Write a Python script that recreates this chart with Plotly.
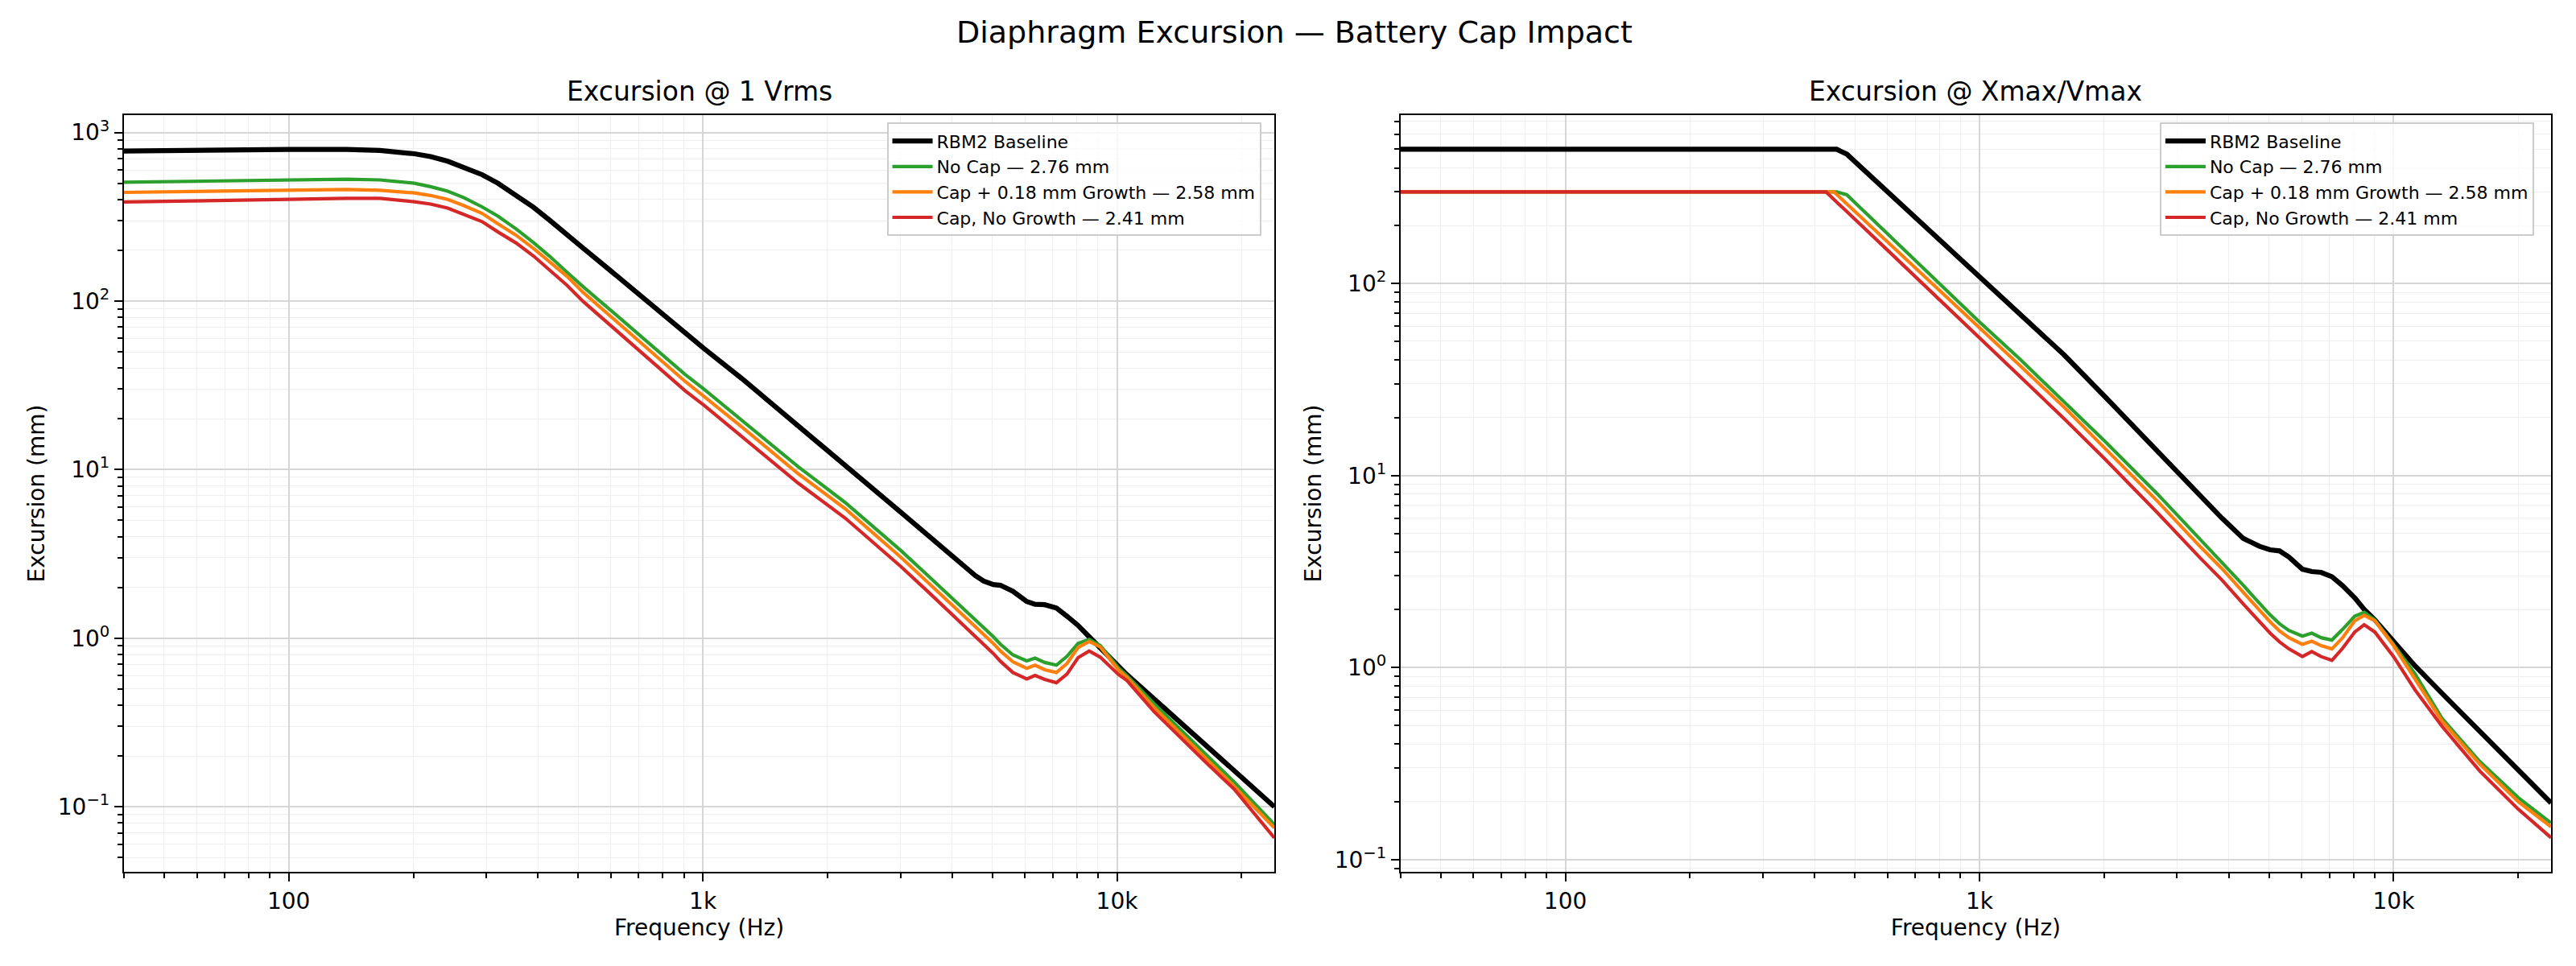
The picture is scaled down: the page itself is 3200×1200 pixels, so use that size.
import plotly.graph_objects as go

# ---- data (frequency in Hz, excursion in mm) ----

# left panel: excursion @ 1 Vrms
freq_1v = [40, 63, 100, 138, 166, 201, 220, 242, 265, 293, 320, 354, 390, 427, 470, 515,
           622, 751, 907, 1006, 1242, 1700, 2206, 2574, 3003, 3503, 4087, 4550, 4770,
           5030, 5230, 5605, 6056, 6343, 6692, 7141, 7573, 8055, 8568, 9112, 10072,
           10570, 12270, 14250, 16520, 19200, 24000]
rbm2_1v = [776, 788, 794, 794, 782, 748, 719, 675, 623, 562, 500, 427, 360, 301, 246, 205,
           140, 95, 64.7, 52.3, 34.7, 18.3, 10.6, 7.7, 5.6, 4.05, 2.9, 2.35, 2.18,
           2.08, 2.06, 1.90, 1.65, 1.59, 1.58, 1.51, 1.35, 1.19, 1.02, 0.87, 0.68,
           0.607, 0.438, 0.316, 0.227, 0.164, 0.100]
nocap_1v = [507, 515, 524, 528, 523, 500, 477, 448, 410, 362, 319, 268, 222, 184, 148, 121,
            81.5, 54.9, 36.6, 30.0, 19.7, 10.4, 6.38, 4.62, 3.32, 2.34, 1.65, 1.28, 1.15,
            1.02, 0.921, 0.796, 0.733, 0.761, 0.718, 0.692, 0.781, 0.931, 0.984, 0.904, 0.67,
            0.60, 0.411, 0.285, 0.201, 0.14, 0.0784]
capgrow_1v = [441, 448, 455, 459, 454, 438, 423, 401, 368, 331, 287, 246, 205, 171, 140, 112,
              74.9, 49.8, 33.3, 27.2, 17.9, 9.45, 5.86, 4.22, 3.03, 2.13, 1.50, 1.17, 1.05,
              0.93, 0.84, 0.725, 0.662, 0.692, 0.650, 0.626, 0.707, 0.881, 0.955, 0.887, 0.65,
              0.585, 0.39, 0.272, 0.19, 0.132, 0.0748]
capnogrow_1v = [387, 392, 401, 407, 407, 388, 376, 356, 327, 296, 257, 221, 185, 153, 124, 99,
                65.9, 43.8, 29.3, 24.1, 15.8, 8.3, 5.16, 3.72, 2.67, 1.88, 1.32, 1.03, 0.92,
                0.81, 0.73, 0.626, 0.573, 0.601, 0.569, 0.544, 0.612, 0.766, 0.839, 0.772, 0.61,
                0.561, 0.368, 0.255, 0.18, 0.127, 0.0653]

# right panel: excursion @ Xmax/Vmax
freq_max = [40, 426, 445, 452, 478, 600, 800, 1000, 1250, 1600, 2000, 2690, 3415, 3848,
            4337, 4540, 4744, 5033, 5304, 5587, 6022, 6345, 6683, 7096, 7532, 8054, 8490,
            9011, 9998, 11266, 13080, 16120, 20000, 24000]
rbm2_max = [500, 500, 500, 500, 472, 300, 169, 108, 69, 42.5, 26.0, 13.4, 7.88, 6.0,
            4.70, 4.45, 4.28, 4.10, 4.05, 3.76, 3.25, 3.16, 3.13, 2.97, 2.67, 2.31, 2.01,
            1.77, 1.365, 1.02, 0.735, 0.4645, 0.292, 0.197]
nocap_max = [300, 300, 300, 300, 290, 181, 101, 63, 40.5, 24.2, 15.2, 8.01, 4.64, 3.57,
             2.68, 2.40, 2.16, 1.88, 1.69, 1.56, 1.456, 1.51, 1.43, 1.39, 1.58, 1.85, 1.94,
             1.77, 1.32, 0.927, 0.545, 0.325, 0.21, 0.155]
capgrow_max = [300, 300, 300, 291, 260, 165, 92.8, 59.4, 37.5, 22.7, 14.0, 7.35, 4.25, 3.28,
               2.46, 2.20, 1.99, 1.73, 1.55, 1.43, 1.32, 1.37, 1.30, 1.25, 1.43, 1.75, 1.87,
               1.75, 1.30, 0.875, 0.528, 0.315, 0.20, 0.148]
capnogrow_max = [300, 300, 274, 266, 237, 149, 82.6, 52.2, 33, 19.8, 12.3, 6.4, 3.71, 2.86,
                 2.14, 1.92, 1.73, 1.51, 1.36, 1.25, 1.14, 1.21, 1.14, 1.09, 1.26, 1.53, 1.67,
                 1.53, 1.14, 0.765, 0.495, 0.29, 0.183, 0.130]

names = ["RBM2 Baseline", "No Cap — 2.76 mm",
         "Cap + 0.18 mm Growth — 2.58 mm", "Cap, No Growth — 2.41 mm"]
colors = ["#000000", "#2ca02c", "#ff7f0e", "#d62728"]
widths = [6.2, 4.2, 4.2, 4.2]

FONT = "DejaVu Sans"

fig = go.Figure()

left = [rbm2_1v, nocap_1v, capgrow_1v, capnogrow_1v]
right = [rbm2_max, nocap_max, capgrow_max, capnogrow_max]

for name, ys, c, w in zip(names, left, colors, widths):
    fig.add_trace(go.Scatter(x=freq_1v, y=ys, name=name, mode="lines",
                             line=dict(color=c, width=w),
                             xaxis="x", yaxis="y", legend="legend"))
for name, ys, c, w in zip(names, right, colors, widths):
    fig.add_trace(go.Scatter(x=freq_max, y=ys, name=name, mode="lines",
                             line=dict(color=c, width=w),
                             xaxis="x2", yaxis="y2", legend="legend2"))

x_minor = [m * 10 ** k for k in range(1, 5) for m in range(2, 10)]
y_minor = [m * 10.0 ** k for k in range(-2, 4) for m in range(2, 10)]
y_major = [0.1, 1, 10, 100, 1000]
y_text = ["10<sup>−1</sup>", "10<sup>0</sup>", "10<sup>1</sup>", "10<sup>2</sup>", "10<sup>3</sup>"]


def x_axis(domain, anchor):
    return dict(
        type="log", domain=domain, anchor=anchor, range=[1.60206, 4.38021],
        tickmode="array", tickvals=[100, 1000, 10000], ticktext=["100", "1k", "10k"],
        ticks="outside", ticklen=10, tickwidth=2.2, tickcolor="black",
        tickfont=dict(family=FONT, size=28, color="black"),
        showline=True, linecolor="black", linewidth=2.2, mirror=True,
        showgrid=True, gridcolor="#d6d6d6", gridwidth=2,
        minor=dict(tickmode="array", tickvals=x_minor, ticks="outside", ticklen=6,
                   tickwidth=1.7, tickcolor="black", showgrid=True,
                   gridcolor="#eeeeee", gridwidth=1.3),
        zeroline=False, automargin=False,
        title=dict(text="Frequency (Hz)", font=dict(family=FONT, size=28, color="black"),
                   standoff=2),
    )


def y_axis(domain_anchor, rng):
    return dict(
        type="log", domain=[0, 1], anchor=domain_anchor, range=rng,
        tickmode="array", tickvals=y_major, ticktext=y_text,
        ticks="outside", ticklen=10, tickwidth=2.2, tickcolor="black",
        tickfont=dict(family=FONT, size=28, color="black"),
        showline=True, linecolor="black", linewidth=2.2, mirror=True,
        showgrid=True, gridcolor="#d6d6d6", gridwidth=2,
        minor=dict(tickmode="array", tickvals=y_minor, ticks="outside", ticklen=6,
                   tickwidth=1.7, tickcolor="black", showgrid=True,
                   gridcolor="#eeeeee", gridwidth=1.3),
        zeroline=False, automargin=False,
        title=dict(text="Excursion (mm)", font=dict(family=FONT, size=28, color="black"),
                   standoff=8),
    )


legend_style = dict(
    font=dict(family=FONT, size=22, color="black"),
    bgcolor="rgba(255,255,255,0.8)", bordercolor="#cccccc", borderwidth=2,
    xanchor="right", yanchor="top", y=0.99, tracegroupgap=0, itemwidth=50,
)

fig.update_layout(
    width=3200, height=1200,
    margin=dict(l=146, r=39, t=135, b=125),
    paper_bgcolor="white", plot_bgcolor="white",
    font=dict(family=FONT, color="black"),
    xaxis=x_axis([0, 0.474], "y"),
    yaxis=y_axis("x", [-1.386, 3.103]),
    xaxis2=x_axis([0.526, 1], "y2"),
    yaxis2=y_axis("x2", [-1.064, 2.877]),
    legend=dict(x=0.4685, **legend_style),
    legend2=dict(x=0.993, **legend_style),
    annotations=[
        dict(text="Diaphragm Excursion — Battery Cap Impact", xref="paper", yref="paper",
             x=0.4823, y=1.1096, xanchor="center", yanchor="middle", showarrow=False,
             font=dict(family=FONT, size=38, color="black")),
        dict(text="Excursion @ 1 Vrms", xref="paper", yref="paper",
             x=0.237, y=1.031, xanchor="center", yanchor="middle", showarrow=False,
             font=dict(family=FONT, size=33, color="black")),
        dict(text="Excursion @ Xmax/Vmax", xref="paper", yref="paper",
             x=0.763, y=1.031, xanchor="center", yanchor="middle", showarrow=False,
             font=dict(family=FONT, size=33, color="black")),
    ],
)

fig.write_html("out.html")
